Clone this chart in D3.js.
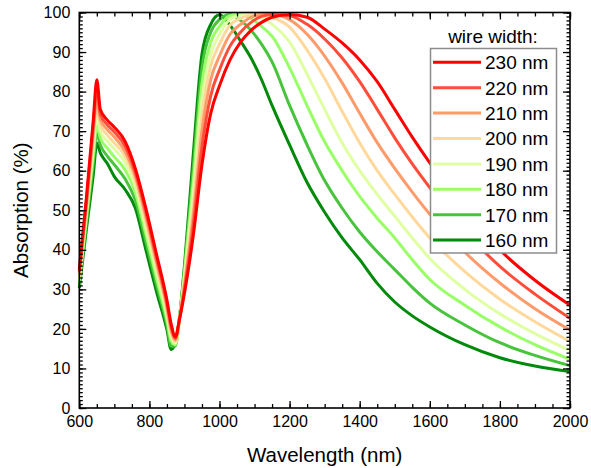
<!DOCTYPE html>
<html>
<head>
<meta charset="utf-8">
<script src="https://cdn.jsdelivr.net/npm/d3@7/dist/d3.min.js"></script>
<style>
  body { margin: 0; background: #fff; }
  text { font-family: "Liberation Sans", Arial, sans-serif; fill: #000; }
</style>
</head>
<body>
<svg id="chart" width="591" height="468"></svg>
<script>
// wavelength grid (nm) shared by all series
const wavelengths = [600, 620, 640, 650, 660, 680, 700, 730, 760, 790, 820, 850,
    862, 874, 886, 900, 925, 950, 975, 1000, 1030, 1060, 1090, 1120, 1150,
    1200, 1250, 1300, 1350, 1400, 1450, 1500, 1550, 1600, 1700, 1800, 1900, 2000];

// absorption (%) per wire width
const abs230 = [35, 53, 73, 83, 75.5, 72.8, 71, 67.5, 60.5, 50.5, 39, 27.3,
    21.3, 18.0, 22.5, 29, 43.5, 61.5, 74.5, 81.5, 88, 92.5, 95.5, 97.5, 98.8,
    99.5, 98.8, 95.8, 92.3, 88, 82.5, 75.5, 68.5, 62, 50.5, 40, 32.3, 26];
const abs220 = [34.5, 52, 71.5, 80.5, 74.3, 71.6, 69.8, 66.3, 59.5, 49.5, 38, 26.5,
    20.5, 17.6, 22.5, 30, 46, 66, 79, 85.5, 91.5, 95, 97.5, 99, 99.5,
    99.2, 97, 93.3, 88.5, 82.5, 75.5, 68.3, 61.7, 55.7, 44.7, 35.8, 28.8, 22.7];
const abs210 = [34, 51, 70, 78, 73, 70.4, 68.5, 65, 58.5, 48.3, 37, 25.5,
    19.7, 17.2, 22.5, 31, 48.5, 70, 83, 89, 94.5, 97, 98.8, 99.5, 99.5,
    98.2, 94.5, 89, 82.2, 74.5, 67.1, 60.6, 54.6, 49, 39.4, 31.6, 25.1, 19.7];
const abs200 = [33.5, 50, 68, 76, 71.6, 69, 67, 63.7, 57.3, 47, 35.8, 24.5,
    18.8, 16.8, 22.6, 32, 51, 74, 86.5, 92, 96.8, 98.5, 99.4, 99.5, 98.8,
    96.3, 90.5, 83.3, 75, 67, 60, 54, 48.3, 43, 34.5, 27.5, 21.8, 16.8];
const abs190 = [32.5, 49, 66, 74, 70, 67.5, 65.5, 62.2, 56, 45.5, 34.5, 23.5,
    18, 16.4, 22.7, 33, 54, 78, 89.5, 94.5, 98.3, 99.3, 99.5, 98.7, 97,
    92.5, 84.4, 75.5, 67, 60, 54, 48.5, 43, 37.8, 30, 23.8, 18.8, 14.5];
const abs180 = [32, 48, 64, 71.5, 68.3, 65.7, 63.5, 60.3, 54.5, 44, 33, 22.3,
    17, 16, 22.8, 34, 57, 82, 92.5, 96.5, 99.2, 99.5, 98.5, 96.5, 94,
    86, 76.4, 67.3, 60, 53.5, 48, 43, 37.5, 32.5, 26, 20.5, 16, 12.3];
const abs170 = [31, 46.5, 62, 69.5, 66.5, 63.7, 61.5, 58, 52.5, 42, 31.3, 21,
    15.6, 15.7, 22.9, 35, 60.5, 86, 95, 98.2, 99.5, 98, 95.5, 92, 87.5,
    76.5, 66.5, 57.5, 50.5, 44.5, 39.5, 35, 30.5, 26.5, 21, 16.5, 13.3, 10.7];
const abs160 = [30.3, 45, 59, 67, 64.5, 61.8, 58.5, 55.3, 50.5, 40, 29.5, 19.8,
    14.8, 16.5, 23, 36, 64, 89.5, 97, 99.4, 96.8, 92.8, 88.5, 83, 76.5,
    66.5, 57, 49.5, 43, 37.5, 31.5, 26.8, 23.3, 20.5, 16, 12.7, 10.6, 9.2];

const wireWidths = ["230 nm", "220 nm", "210 nm", "200 nm", "190 nm", "180 nm", "170 nm", "160 nm"];
const colors = ["#ff0000", "#ff4d3a", "#ff9a6a", "#ffd89c", "#e0ffa3", "#99ff66", "#47c43c", "#008a0a"];
const allSeries = [abs230, abs220, abs210, abs200, abs190, abs180, abs170, abs160];

const xTicks = [600, 800, 1000, 1200, 1400, 1600, 1800, 2000];
const yTicks = [0, 10, 20, 30, 40, 50, 60, 70, 80, 90, 100];

let margin = {top: 12.5, right: 21, bottom: 60, left: 79.3},
    width = 591 - margin.left - margin.right,
    height = 468 - margin.top - margin.bottom;

let svg = d3.select("#chart");
let g = svg.append("g").attr("transform", "translate(" + margin.left + "," + margin.top + ")");

let x = d3.scaleLinear().domain([600, 2000]).range([0, width]);
let y = d3.scaleLinear().domain([0, 100]).range([height, 0]);

let line = d3.line()
    .x(function (d) { return x(d[0]); })
    .y(function (d) { return y(d[1]); })
    .curve(d3.curveMonotoneX);

// curves, green first so red ends up on top
let order = d3.range(allSeries.length).reverse();
g.append("g").attr("class", "curves")
    .selectAll("path")
    .data(order)
    .enter().append("path")
    .attr("d", function (i) { return line(wavelengths.map(function (w, k) { return [w, allSeries[i][k]]; })); })
    .style("fill", "none")
    .style("stroke", function (i) { return colors[i]; })
    .style("stroke-width", 3)
    .style("stroke-linejoin", "round");

// axes, ticks pointing inward on all four sides
function styleAxis(sel) {
    sel.select(".domain").remove();
    sel.selectAll("line").style("stroke", "#000").style("stroke-width", 1.3);
    sel.selectAll("text").style("font-size", "16px").style("font-family", "Liberation Sans, Arial, sans-serif");
}

g.append("g").attr("transform", "translate(0," + height + ")")
    .call(d3.axisBottom(x).tickValues(d3.range(600, 2001, 50)).tickSize(-4).tickFormat(""))
    .call(styleAxis);
g.append("g").attr("transform", "translate(0," + height + ")")
    .call(d3.axisBottom(x).tickValues(xTicks).tickSize(-7).tickPadding(8).tickFormat(d3.format("d")))
    .call(styleAxis);
g.append("g")
    .call(d3.axisTop(x).tickValues(d3.range(600, 2001, 50)).tickSize(-4).tickFormat(""))
    .call(styleAxis);
g.append("g")
    .call(d3.axisTop(x).tickValues(xTicks).tickSize(-7).tickFormat(""))
    .call(styleAxis);

g.append("g")
    .call(d3.axisLeft(y).tickValues(d3.range(0, 101, 1)).tickSize(-3.5).tickFormat(""))
    .call(styleAxis);
g.append("g")
    .call(d3.axisLeft(y).tickValues(yTicks).tickSize(-7).tickPadding(9).tickFormat(d3.format("d")))
    .call(styleAxis);
g.append("g").attr("transform", "translate(" + width + ",0)")
    .call(d3.axisRight(y).tickValues(d3.range(0, 101, 1)).tickSize(-3.5).tickFormat(""))
    .call(styleAxis);
g.append("g").attr("transform", "translate(" + width + ",0)")
    .call(d3.axisRight(y).tickValues(yTicks).tickSize(-7).tickFormat(""))
    .call(styleAxis);

g.append("rect")
    .attr("width", width).attr("height", height)
    .style("fill", "none").style("stroke", "#000").style("stroke-width", 1.6);

// axis titles
svg.append("text")
    .attr("x", margin.left + width / 2).attr("y", 462)
    .attr("text-anchor", "middle")
    .style("font-size", "20.5px")
    .text("Wavelength (nm)");
svg.append("text")
    .attr("transform", "translate(28," + (margin.top + height / 2) + ") rotate(-90)")
    .attr("text-anchor", "middle")
    .style("font-size", "20.5px")
    .text("Absorption (%)");

// legend
let legend = svg.append("g").attr("class", "legend");
legend.append("text")
    .attr("x", 493).attr("y", 43)
    .attr("text-anchor", "middle")
    .style("font-size", "19px")
    .text("wire width:");
legend.append("rect")
    .attr("x", 430.5).attr("y", 48.5).attr("width", 126).attr("height", 204.5)
    .style("fill", "#fff").style("stroke", "#8c8c8c").style("stroke-width", 1.5);

let rows = legend.selectAll("g.row")
    .data(wireWidths)
    .enter().append("g").attr("class", "row")
    .attr("transform", function (d, i) { return "translate(0," + (62.3 + i * 25.4) + ")"; });
rows.append("line")
    .attr("x1", 433).attr("x2", 481)
    .style("stroke", function (d, i) { return colors[i]; })
    .style("stroke-width", 3);
rows.append("text")
    .attr("x", 485).attr("y", 6.8)
    .style("font-size", "19px")
    .text(function (d) { return d; });
</script>
</body>
</html>
